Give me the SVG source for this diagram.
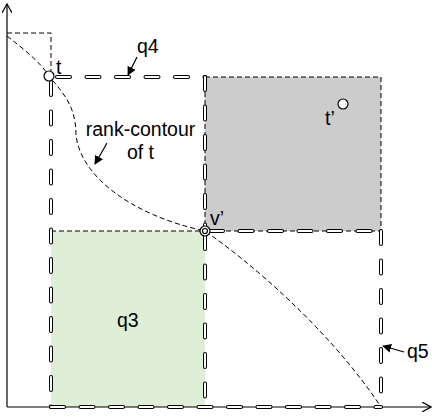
<svg xmlns="http://www.w3.org/2000/svg" xmlns:xlink="http://www.w3.org/1999/xlink" width="432" height="418" viewBox="0 0 432 418">
<style>
  text { font-family: "Liberation Sans", Arial, sans-serif; font-size: 19.5px; fill: #000; }
  .thin { fill: none; stroke: #000; stroke-width: 1; stroke-dasharray: 5 3; }
  .axis { fill: none; stroke: #000; stroke-width: 1.2; }
  .hout { fill: none; stroke: #000; stroke-width: 4; stroke-dasharray: 13 16.5; stroke-linecap: round; }
  .hin { fill: none; stroke: #fff; stroke-width: 2; stroke-dasharray: 13 16.5; stroke-linecap: round; }
  .pt { fill: #fff; stroke: #000; stroke-width: 1.2; }
  .lbl-arrow { fill: none; stroke: #000; stroke-width: 1.2; }
</style>
<defs>
  <marker id="open" viewBox="0 0 10 10" refX="9" refY="5" markerWidth="10" markerHeight="10" markerUnits="userSpaceOnUse" orient="auto">
    <path d="M0,0 L9,5 L0,10" fill="none" stroke="#000" stroke-width="1.2"/>
  </marker>
  <marker id="solid" viewBox="0 0 10 10" refX="9" refY="5" markerWidth="9" markerHeight="9" markerUnits="userSpaceOnUse" orient="auto">
    <path d="M0,0 L10,5 L0,10 Z" fill="#000"/>
  </marker>
  <path id="h1" d="M51,82 V407"/>
  <path id="h2" d="M57,77 H205"/>
  <path id="h3" d="M205,77 V226"/>
  <path id="h4" d="M210,231 H381"/>
  <path id="h5" d="M381,231 V407"/>
  <path id="h6" d="M205,236 V407"/>
  <path id="h7" d="M51,407 H381"/>
</defs>

<g id="regions">
  <rect id="q3-fill" x="51" y="231" width="154" height="176" fill="#dfefd7"/>
  <rect id="q4-gray" x="205" y="77" width="176" height="154" class="thin" style="fill:#cccccc"/>
  <path id="q3-top" class="thin" d="M51,231 H200"/>
  <path id="small-rect" class="thin" d="M7,33 H51 V71"/>
</g>

<g id="axes">
  <path class="axis" d="M7,407 V4" marker-end="url(#open)"/>
  <path class="axis" d="M7,407 H431" marker-end="url(#open)"/>
</g>

<g id="contour">
  <path class="thin" d="M7,36 C25,50 40,62 49,76 C62,92 76,105 76,135 C80,175 130,215 205,231 C250,262 330,330 381,407"/>
</g>

<g id="hollow-boundaries">
  <use xlink:href="#h1" class="hout"/><use xlink:href="#h1" class="hin"/>
  <use xlink:href="#h2" class="hout"/><use xlink:href="#h2" class="hin"/>
  <use xlink:href="#h3" class="hout"/><use xlink:href="#h3" class="hin"/>
  <use xlink:href="#h4" class="hout"/><use xlink:href="#h4" class="hin"/>
  <use xlink:href="#h5" class="hout"/><use xlink:href="#h5" class="hin"/>
  <use xlink:href="#h6" class="hout"/><use xlink:href="#h6" class="hin"/>
  <use xlink:href="#h7" class="hout"/><use xlink:href="#h7" class="hin"/>
</g>

<g id="node-t">
  <circle class="pt" cx="49" cy="76" r="5"/>
  <text x="56" y="74">t</text>
</g>
<g id="node-t2">
  <circle class="pt" cx="343" cy="104" r="5"/>
  <text x="325" y="125">t’</text>
</g>
<g id="node-v2">
  <circle class="pt" cx="205" cy="231" r="5"/>
  <circle class="pt" cx="205" cy="231" r="2.5"/>
  <text x="210" y="225">v’</text>
</g>

<g id="labels">
  <text x="137" y="53">q4</text>
  <text x="140.5" y="136" text-anchor="middle">rank-contour</text>
  <text x="140.5" y="159" text-anchor="middle">of t</text>
  <text x="117" y="327">q3</text>
  <text x="407" y="358">q5</text>
</g>

<g id="connectors">
  <path class="lbl-arrow" d="M137,57 L128,75" marker-end="url(#solid)"/>
  <path class="lbl-arrow" d="M107,143 L95,164" marker-end="url(#solid)"/>
  <path class="lbl-arrow" d="M404,352 L383,346" marker-end="url(#solid)"/>
</g>
</svg>
